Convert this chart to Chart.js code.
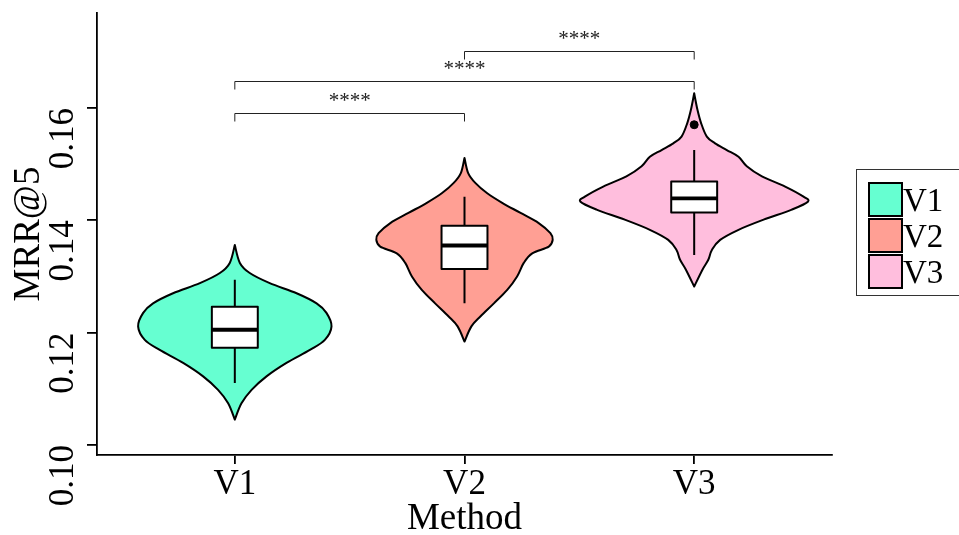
<!DOCTYPE html>
<html lang="en">
<head>
  <meta charset="UTF-8">
  <title>MRR@5 by Method</title>
  <script src="https://cdn.jsdelivr.net/npm/chart.js"></script>
  <style>
    html, body { margin: 0; padding: 0; background: #fff; }
    #chart-container { width: 959px; height: 535px; }
  </style>
</head>
<body>
  <div id="chart-container">
    <canvas id="violinChart"></canvas>
  </div>

  <script>
    const FONT = 'Liberation Serif';
    const methods = ['V1', 'V2', 'V3'];
    const fillColors = ['#66FFD1', '#FF9F94', '#FFBEDD'];
    const yTicks = [0.10, 0.12, 0.14, 0.16];

    // violin outlines, read top to bottom: MRR@5 value and half width (category units)
    const v1Values = [0.1356, 0.1324, 0.1306, 0.1288, 0.1270, 0.1252, 0.1235, 0.1211, 0.1187, 0.1169, 0.1146, 0.1122, 0.1098, 0.1074, 0.1045];
    const v1Widths = [0, 0.022, 0.065, 0.152, 0.269, 0.356, 0.399, 0.421, 0.392, 0.327, 0.225, 0.138, 0.073, 0.029, 0];
    const v2Values = [0.1511, 0.1484, 0.1466, 0.1448, 0.1431, 0.1413, 0.1395, 0.1377, 0.1365, 0.1353, 0.1341, 0.1324, 0.1300, 0.1276, 0.1252, 0.1229, 0.1211, 0.1184];
    const v2Widths = [0, 0.016, 0.048, 0.099, 0.164, 0.244, 0.323, 0.374, 0.384, 0.367, 0.295, 0.258, 0.229, 0.186, 0.128, 0.070, 0.030, 0];
    const v3Values = [0.1626, 0.1597, 0.1573, 0.1549, 0.1537, 0.1525, 0.1513, 0.1496, 0.1478, 0.1460, 0.1442, 0.1433, 0.1419, 0.1401, 0.1383, 0.1365, 0.1347, 0.1330, 0.1312, 0.1282];
    const v3Widths = [0, 0.014, 0.030, 0.055, 0.091, 0.142, 0.193, 0.229, 0.295, 0.396, 0.476, 0.495, 0.425, 0.302, 0.193, 0.113, 0.077, 0.062, 0.036, 0];

    // box plot stats per method
    const whiskerLow = [0.1110, 0.1252, 0.1338];
    const q1 = [0.1173, 0.1313, 0.1414];
    const median = [0.1205, 0.1355, 0.1439];
    const q3 = [0.1246, 0.1390, 0.1469];
    const whiskerHigh = [0.1294, 0.1442, 0.1525];
    const outlierMethod = [3];
    const outlierValue = [0.1570];

    // significance brackets
    const pairFrom = [1, 1, 2];
    const pairTo = [2, 3, 3];
    const pairHeight = [0.1591, 0.1648, 0.1702];
    const pairLabel = ['****', '****', '****'];

    const violins = [
      { values: v1Values, widths: v1Widths },
      { values: v2Values, widths: v2Widths },
      { values: v3Values, widths: v3Widths }
    ];

    function smoothTo(ctx, pts, first) {
      if (first) ctx.moveTo(pts[0][0], pts[0][1]);
      else ctx.lineTo(pts[0][0], pts[0][1]);
      for (let i = 0; i < pts.length - 1; i++) {
        const p0 = pts[i - 1] || pts[i], p1 = pts[i], p2 = pts[i + 1], p3 = pts[i + 2] || p2;
        ctx.bezierCurveTo(
          p1[0] + (p2[0] - p0[0]) / 6, p1[1] + (p2[1] - p0[1]) / 6,
          p2[0] - (p3[0] - p1[0]) / 6, p2[1] - (p3[1] - p1[1]) / 6,
          p2[0], p2[1]);
      }
    }

    const violinPlugin = {
      id: 'violins',
      beforeDatasetsDraw(chart) {
        const { ctx, scales: { x, y } } = chart;
        ctx.save();
        violins.forEach((v, i) => {
          const c = i + 1;
          const right = v.values.map((val, k) => [x.getPixelForValue(c + v.widths[k]), y.getPixelForValue(val)]);
          const left = v.values.map((val, k) => [x.getPixelForValue(c - v.widths[k]), y.getPixelForValue(val)]).reverse();
          ctx.beginPath();
          smoothTo(ctx, right, true);
          smoothTo(ctx, left, false);
          ctx.closePath();
          ctx.fillStyle = fillColors[i];
          ctx.fill();
          ctx.lineWidth = 2;
          ctx.strokeStyle = '#000';
          ctx.lineJoin = 'round';
          ctx.stroke();

          // box plot
          const cx = x.getPixelForValue(c);
          const bl = x.getPixelForValue(c - 0.1), br = x.getPixelForValue(c + 0.1);
          ctx.lineWidth = 2;
          ctx.beginPath();
          ctx.moveTo(cx, y.getPixelForValue(whiskerHigh[i]));
          ctx.lineTo(cx, y.getPixelForValue(q3[i]));
          ctx.moveTo(cx, y.getPixelForValue(q1[i]));
          ctx.lineTo(cx, y.getPixelForValue(whiskerLow[i]));
          ctx.stroke();
          const top = y.getPixelForValue(q3[i]), bot = y.getPixelForValue(q1[i]);
          ctx.fillStyle = '#fff';
          ctx.fillRect(bl, top, br - bl, bot - top);
          ctx.strokeRect(bl, top, br - bl, bot - top);
          ctx.lineWidth = 3.8;
          ctx.beginPath();
          const my = y.getPixelForValue(median[i]);
          ctx.moveTo(bl, my);
          ctx.lineTo(br, my);
          ctx.stroke();
        });
        ctx.restore();
      },
      afterDatasetsDraw(chart) {
        const { ctx, scales: { x, y } } = chart;
        ctx.save();
        ctx.strokeStyle = '#222';
        ctx.fillStyle = '#222';
        ctx.lineWidth = 1;
        ctx.font = '21px "' + FONT + '"';
        ctx.textAlign = 'center';
        ctx.textBaseline = 'alphabetic';
        pairFrom.forEach((a, i) => {
          const x1 = x.getPixelForValue(a), x2 = x.getPixelForValue(pairTo[i]);
          const yy = Math.round(y.getPixelForValue(pairHeight[i])) + 0.5;
          ctx.beginPath();
          ctx.moveTo(x1, yy + 8);
          ctx.lineTo(x1, yy);
          ctx.lineTo(x2, yy);
          ctx.lineTo(x2, yy + 8);
          ctx.stroke();
          ctx.fillText(pairLabel[i], (x1 + x2) / 2, yy - 7);
        });
        ctx.restore();
      },
      afterDraw(chart) {
        const { ctx } = chart;
        ctx.save();
        ctx.strokeStyle = '#333';
        ctx.lineWidth = 1;
        ctx.strokeRect(856.5, 169.5, 110, 126);
        ctx.font = '33px "' + FONT + '"';
        ctx.textBaseline = 'alphabetic';
        ctx.textAlign = 'left';
        methods.forEach((m, i) => {
          const top = 183 + i * 36;
          ctx.fillStyle = fillColors[i];
          ctx.fillRect(869, top, 33, 33);
          ctx.lineWidth = 2;
          ctx.strokeStyle = '#000';
          ctx.strokeRect(869, top, 33, 33);
          ctx.fillStyle = '#000';
          ctx.fillText(m, 903, top + 28);
        });
        ctx.restore();
      }
    };

    const ctx = document.getElementById('violinChart').getContext('2d');
    new Chart(ctx, {
      type: 'scatter',
      data: {
        datasets: [{
          label: 'outlier',
          data: outlierMethod.map((m, i) => ({ x: m, y: outlierValue[i] })),
          backgroundColor: '#000',
          borderColor: '#000',
          pointRadius: 4
        }]
      },
      options: {
        responsive: true,
        maintainAspectRatio: false,
        animation: false,
        layout: { padding: { top: 13, right: 127, left: 0, bottom: 0 } },
        plugins: { legend: { display: false }, tooltip: { enabled: false } },
        scales: {
          x: {
            type: 'linear',
            min: 0.4,
            max: 3.6,
            afterBuildTicks: s => { s.ticks = methods.map((m, i) => ({ value: i + 1 })); },
            afterFit: s => { s.height = 80; s.paddingLeft = 0; s.paddingRight = 0; },
            ticks: {
              autoSkip: false,
              maxRotation: 0,
              padding: 0,
              color: '#000',
              font: { family: FONT, size: 35 },
              callback: v => methods[v - 1]
            },
            grid: { drawOnChartArea: false, tickLength: 9, color: '#000', lineWidth: 1.8 },
            border: { display: true, color: '#000', width: 1.8 },
            title: {
              display: true,
              text: 'Method',
              color: '#000',
              font: { family: FONT, size: 37, lineHeight: 1 },
              padding: { top: 0, bottom: -3 }
            }
          },
          y: {
            type: 'linear',
            min: 0.0982,
            max: 0.1769,
            afterBuildTicks: s => { s.ticks = yTicks.map(v => ({ value: v })); },
            afterFit: s => { s.width = 97; s.paddingTop = 0; s.paddingBottom = 0; },
            ticks: {
              autoSkip: false,
              minRotation: 90,
              maxRotation: 90,
              padding: 23,
              color: '#000',
              font: { family: FONT, size: 35 },
              callback: v => v.toFixed(2)
            },
            grid: { drawOnChartArea: false, tickLength: 10, color: '#000', lineWidth: 1.8 },
            border: { display: true, color: '#000', width: 1.8 },
            title: {
              display: true,
              text: 'MRR@5',
              color: '#000',
              font: { family: FONT, size: 37, lineHeight: 1 },
              padding: { top: 11, bottom: 0 }
            }
          }
        }
      },
      plugins: [violinPlugin]
    });
  </script>
</body>
</html>
